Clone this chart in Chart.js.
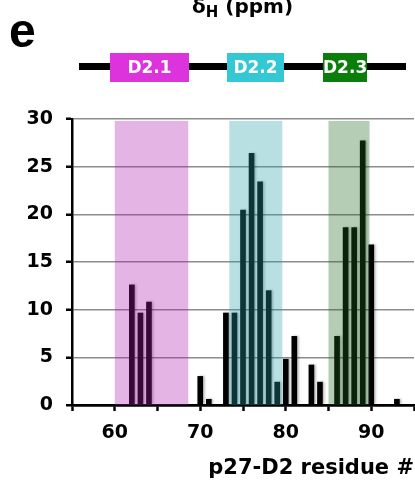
<!DOCTYPE html>
<html>
<head>
<meta charset="utf-8">
<script src="https://cdn.jsdelivr.net/npm/chart.js@4"></script>
<style>
  html, body { margin: 0; padding: 0; background: #fff; }
  #wrap { position: relative; width: 415px; height: 483px; overflow: hidden; }
  #chart { position: absolute; left: 0; top: 0; }
  .lbl { position: absolute; font-family: "DejaVu Sans", sans-serif; font-weight: bold; color: #000; white-space: nowrap; }
  #panel { left: 9px; top: 7px; font-family: "Liberation Sans", Arial, sans-serif; font-size: 48px; line-height: 48px; }
  #shiftTitle { left: 192px; top: -6px; font-size: 20px; line-height: 24px; }
  #shiftTitle sub { font-size: 15px; vertical-align: -4px; }
  #domLine { position: absolute; left: 79px; top: 63px; width: 327px; height: 7px; background: #000; }
  .dom { position: absolute; top: 53px; height: 29px; color: #fff; font-family: "DejaVu Sans", sans-serif;
         font-weight: bold; font-size: 17px; line-height: 29px; text-align: center; }
</style>
</head>
<body>
<div id="wrap">
  <canvas id="chart" width="415" height="483"></canvas>
  <div class="lbl" id="panel">e</div>
  <div class="lbl" id="shiftTitle">δ<sub>H</sub> (ppm)</div>
  <div id="domLine"></div>
  <div id="domains"></div>
</div>
<script>
/* ================================
   Data
================================ */
const residues = [62, 63, 64, 70, 71, 73, 74, 75, 76, 77, 78, 79, 80, 81, 83, 84, 86, 87, 88, 89, 90, 93];
const shifts   = [12.6, 9.65, 10.8, 3.0, 0.6, 9.65, 9.65, 20.45, 26.4, 23.4, 12.0, 2.4, 4.8, 7.2, 4.2, 2.4, 7.2, 18.6, 18.6, 27.7, 16.8, 0.6];

const domainNames = ["D2.1", "D2.2", "D2.3"];
const domainStart = [60, 73.4, 85];
const domainEnd   = [68.6, 79.6, 89.8];

const xTicks = [55, 60, 65, 70, 75, 80, 85, 90, 95];
const yTicks = [0, 5, 10, 15, 20, 25, 30];

/* ================================
   Styles
================================ */
const domainColors = ["#dc33dc", "#33c8d3", "#0b7d0b"];
const bandColors = ["rgba(174,30,174,0.33)", "rgba(40,157,166,0.33)", "rgba(29,100,29,0.33)"];
const diagramBoxes = [[110, 79], [227, 57], [323, 44]];

/* ================================
   Domain diagram (top)
================================ */
function drawDiagram() {
    const box = document.getElementById("domains");
    domainNames.forEach((name, i) => {
        const d = document.createElement("div");
        d.className = "dom";
        d.style.left = diagramBoxes[i][0] + "px";
        d.style.width = diagramBoxes[i][1] + "px";
        d.style.background = domainColors[i];
        d.textContent = name;
        box.appendChild(d);
    });
}

/* ================================
   Bands + bar shadow plugin
================================ */
const bandPlugin = {
    id: "bands",
    beforeDatasetsDraw(chart) {
        const ctx = chart.ctx;
        ctx.save();
        ctx.shadowColor = "rgba(0,0,0,0.3)";
        ctx.shadowBlur = 2.5;
        ctx.shadowOffsetX = 1.5;
        ctx.shadowOffsetY = 0;
    },
    afterDatasetsDraw(chart) {
        const ctx = chart.ctx;
        ctx.restore();
        const x = chart.scales.x, y = chart.scales.y;
        ctx.save();
        domainStart.forEach((s, i) => {
            const left = x.getPixelForValue(s);
            const right = x.getPixelForValue(domainEnd[i]);
            const top = y.getPixelForValue(29.8);
            const bottom = y.getPixelForValue(0);
            ctx.fillStyle = bandColors[i];
            ctx.fillRect(left, top, right - left, bottom - top);
        });
        ctx.restore();
    }
};

/* ================================
   Chart
================================ */
function renderChart() {
    Chart.defaults.font.family = "'DejaVu Sans', sans-serif";
    Chart.defaults.font.weight = "bold";
    Chart.defaults.color = "#000";

    const points = residues.map((r, i) => ({ x: r, y: shifts[i] }));

    new Chart(document.getElementById("chart"), {
        type: "bar",
        data: {
            datasets: [{
                data: points,
                backgroundColor: "#000",
                borderWidth: 0,
                barThickness: 5
            }]
        },
        options: {
            responsive: false,
            animation: false,
            layout: { padding: { top: 119, right: 1, left: 0, bottom: 0 } },
            plugins: {
                legend: { display: false },
                tooltip: { enabled: false }
            },
            scales: {
                x: {
                    type: "linear",
                    offset: false,
                    min: xTicks[0],
                    max: xTicks[xTicks.length - 1],
                    afterBuildTicks: s => { s.ticks = xTicks.map(v => ({ value: v })); },
                    afterFit: s => { s.height = 78; s.paddingLeft = 0; s.paddingRight = 0; },
                    ticks: {
                        font: { size: 19, weight: "bold" },
                        padding: 11,
                        maxRotation: 0,
                        autoSkip: false,
                        callback: v => (v % 10 === 0 ? v : "")
                    },
                    grid: {
                        offset: false,
                        drawOnChartArea: false,
                        color: "#000",
                        tickLength: 6,
                        tickWidth: 2.5
                    },
                    border: { color: "#000", width: 2.5 },
                    title: {
                        display: true,
                        text: "p27-D2 residue #",
                        align: "end",
                        font: { size: 21, weight: "bold" },
                        padding: { top: 0, bottom: 2 }
                    }
                },
                y: {
                    min: yTicks[0],
                    max: yTicks[yTicks.length - 1],
                    afterBuildTicks: s => { s.ticks = yTicks.map(v => ({ value: v })); },
                    afterFit: s => { s.width = 72; },
                    ticks: {
                        font: { size: 19, weight: "bold" },
                        padding: 13
                    },
                    grid: {
                        color: c => (c.tick && c.tick.value === 0 ? "#000" : "#8c8c8c"),
                        lineWidth: c => (c.tick && c.tick.value === 0 ? 2.5 : 1.5),
                        tickColor: "#000",
                        tickLength: 6,
                        tickWidth: 2.5
                    },
                    border: { color: "#000", width: 2.5 }
                }
            }
        },
        plugins: [bandPlugin]
    });
}

drawDiagram();
renderChart();
</script>
</body>
</html>
